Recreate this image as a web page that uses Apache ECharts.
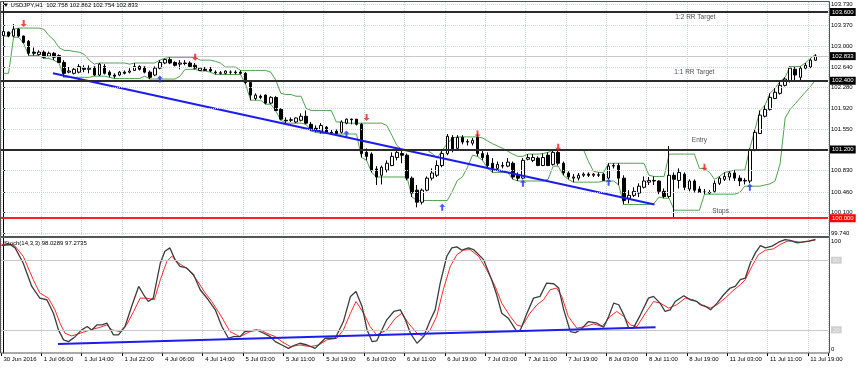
<!DOCTYPE html>
<html><head><meta charset="utf-8">
<script src="https://cdn.jsdelivr.net/npm/echarts@6/dist/echarts.min.js"></script>
<style>html,body{margin:0;padding:0;background:#fff}#c{width:859px;height:368px}</style>
</head><body><div id="c"></div>
<script>
const openP=[103.19,103.25,103.18,103.30,103.18,103.09,102.90,102.86,102.90,102.83,102.88,102.84,102.72,102.55,102.53,102.55,102.62,102.60,102.64,102.50,102.65,102.55,102.50,102.50,102.55,102.55,102.58,102.65,102.64,102.55,102.50,102.62,102.71,102.77,102.72,102.69,102.71,102.71,102.67,102.58,102.60,102.60,102.55,102.53,102.53,102.55,102.55,102.55,102.53,102.37,102.09,102.13,102.15,102.01,102.11,101.90,101.71,101.71,101.68,101.71,101.78,101.64,101.57,101.52,101.59,101.50,101.52,101.50,101.66,101.73,101.73,101.64,101.15,101.12,100.86,100.75,100.84,100.92,101.06,101.13,101.10,100.70,100.49,100.28,100.49,100.70,100.75,100.92,101.13,101.41,101.22,101.41,101.33,101.31,101.41,101.13,101.10,100.96,100.87,100.92,100.91,100.96,100.75,100.70,101.03,101.01,101.05,100.92,101.10,100.94,101.15,100.96,100.79,100.70,100.70,100.75,100.77,100.75,100.75,100.77,100.70,100.91,100.92,100.70,100.35,100.40,100.44,100.54,100.63,100.66,100.65,100.47,100.38,100.75,100.66,100.77,100.51,100.65,100.51,100.46,100.45,100.47,100.61,100.68,100.72,100.79,100.70,100.65,100.65,101.19,101.48,101.78,101.90,102.09,102.18,102.32,102.39,102.60,102.46,102.62,102.64,102.758];
const highP=[103.30,103.26,103.39,103.32,103.19,103.11,102.98,102.93,102.93,102.91,102.90,102.86,102.76,102.64,102.64,102.69,102.67,102.67,102.65,102.71,102.69,102.58,102.53,102.57,102.58,102.62,102.71,102.67,102.65,102.58,102.65,102.76,102.79,102.81,102.74,102.76,102.76,102.74,102.71,102.64,102.64,102.64,102.58,102.57,102.58,102.58,102.58,102.58,102.55,102.41,102.18,102.16,102.16,102.13,102.13,101.92,101.76,101.76,101.76,101.83,101.88,101.68,101.62,101.66,101.61,101.54,101.55,101.71,101.74,101.74,101.72,101.66,101.22,101.15,100.91,100.92,101.01,101.15,101.20,101.19,101.13,100.73,100.58,100.52,100.73,100.87,101.01,101.19,101.47,101.45,101.45,101.45,101.38,101.40,101.48,101.19,101.15,101.05,100.99,100.98,101.05,100.99,100.80,101.05,101.12,101.12,101.08,101.13,101.15,101.19,101.20,100.99,100.82,100.77,100.79,100.80,100.80,100.79,100.80,100.79,100.96,100.96,100.96,100.75,100.49,100.54,100.61,100.73,100.72,100.73,100.66,100.52,101.26,100.80,100.87,100.80,100.68,100.68,100.56,100.51,100.49,100.66,100.73,100.80,100.82,100.84,100.75,100.70,101.22,101.54,101.88,101.97,102.18,102.27,102.39,102.46,102.65,102.64,102.65,102.71,102.79,102.862];
const lowP=[103.18,103.16,103.16,103.16,103.05,102.84,102.84,102.84,102.79,102.81,102.76,102.71,102.46,102.53,102.51,102.53,102.55,102.53,102.48,102.48,102.51,102.46,102.44,102.48,102.51,102.53,102.57,102.58,102.53,102.43,102.48,102.60,102.69,102.69,102.65,102.60,102.67,102.64,102.60,102.57,102.57,102.55,102.51,102.51,102.51,102.51,102.51,102.51,102.34,102.06,102.06,102.08,101.99,101.99,101.87,101.71,101.66,101.68,101.66,101.69,101.64,101.52,101.50,101.48,101.48,101.47,101.47,101.48,101.64,101.64,101.62,101.06,101.01,100.80,100.58,100.59,100.80,100.91,101.01,100.96,100.66,100.37,100.19,100.24,100.47,100.66,100.72,100.89,101.10,101.15,101.19,101.29,101.27,101.27,101.08,101.01,100.87,100.80,100.84,100.87,100.89,100.68,100.65,100.68,101.01,100.98,100.91,100.91,100.91,100.92,100.92,100.75,100.68,100.63,100.66,100.72,100.72,100.72,100.72,100.65,100.68,100.87,100.58,100.24,100.26,100.37,100.37,100.52,100.58,100.58,100.42,100.35,100.35,100.00,100.52,100.49,100.47,100.45,100.44,100.42,100.42,100.45,100.58,100.65,100.66,100.65,100.56,100.59,100.61,101.17,101.47,101.76,101.88,102.08,102.16,102.30,102.37,102.39,102.41,102.60,102.62,102.754];
const closeP=[103.26,103.18,103.30,103.18,103.07,102.88,102.88,102.90,102.81,102.88,102.81,102.72,102.53,102.57,102.60,102.65,102.60,102.62,102.50,102.69,102.53,102.50,102.48,102.55,102.53,102.57,102.65,102.60,102.55,102.46,102.62,102.72,102.77,102.71,102.67,102.71,102.70,102.65,102.62,102.62,102.58,102.57,102.54,102.54,102.57,102.55,102.54,102.53,102.37,102.15,102.15,102.11,102.01,102.11,101.88,101.73,101.70,101.72,101.75,101.78,101.66,101.55,101.54,101.62,101.50,101.49,101.48,101.68,101.73,101.72,101.64,101.13,101.08,100.84,100.72,100.89,100.96,101.08,101.15,101.10,100.70,100.44,100.28,100.49,100.70,100.79,100.92,101.13,101.43,101.19,101.41,101.33,101.34,101.36,101.13,101.06,100.92,100.87,100.94,100.91,100.98,100.72,100.70,101.01,101.06,101.06,100.92,101.06,100.92,101.15,100.96,100.79,100.72,100.72,100.75,100.77,100.75,100.77,100.76,100.66,100.91,100.92,100.70,100.31,100.40,100.47,100.56,100.65,100.66,100.65,100.47,100.38,100.75,100.68,100.80,100.54,100.65,100.49,100.45,100.45,100.44,100.61,100.70,100.73,100.79,100.70,100.65,100.66,101.19,101.50,101.80,101.90,102.11,102.20,102.32,102.43,102.62,102.50,102.62,102.67,102.76,102.833];
const upperBand=[103.18,103.18,103.30,103.32,103.32,103.32,103.32,103.32,103.30,103.19,103.11,102.98,102.93,102.93,102.91,102.90,102.86,102.76,102.69,102.71,102.71,102.71,102.71,102.71,102.71,102.69,102.71,102.71,102.71,102.71,102.71,102.76,102.79,102.81,102.81,102.81,102.81,102.81,102.81,102.76,102.76,102.76,102.74,102.71,102.64,102.64,102.64,102.58,102.58,102.58,102.58,102.58,102.58,102.55,102.41,102.18,102.16,102.16,102.13,102.13,101.92,101.88,101.88,101.88,101.88,101.88,101.68,101.68,101.66,101.66,101.66,101.66,101.66,101.66,101.66,101.66,101.62,101.45,101.27,101.20,101.20,101.20,101.20,101.20,101.19,101.13,101.05,101.19,101.30,101.40,101.42,101.42,101.42,101.42,101.42,101.40,101.35,101.30,101.26,101.22,101.17,101.12,101.08,101.08,101.12,101.12,101.12,101.13,101.15,101.19,101.20,101.20,101.20,101.20,101.20,101.20,100.99,100.82,100.80,100.80,100.96,100.96,100.96,100.96,100.96,100.96,100.96,100.96,100.75,100.73,100.73,100.73,101.12,101.12,101.12,101.12,101.12,101.12,100.87,100.87,100.80,100.68,100.73,100.80,100.82,100.84,100.84,100.84,101.22,101.54,101.88,101.97,102.18,102.27,102.39,102.46,102.65,102.65,102.65,102.71,102.79,102.86];
const lowerBand=[102.53,102.53,103.16,103.16,103.05,102.84,102.84,102.84,102.79,102.79,102.76,102.71,102.46,102.46,102.46,102.46,102.46,102.46,102.48,102.48,102.48,102.46,102.44,102.44,102.44,102.44,102.44,102.44,102.48,102.43,102.43,102.43,102.43,102.43,102.43,102.48,102.60,102.60,102.60,102.57,102.57,102.55,102.51,102.51,102.51,102.51,102.51,102.51,102.34,102.06,102.06,102.06,101.99,101.99,101.87,101.71,101.66,101.66,101.66,101.66,101.64,101.52,101.50,101.48,101.48,101.47,101.47,101.47,101.47,101.47,101.47,101.06,101.01,100.80,100.72,100.72,100.72,100.72,100.72,100.72,100.72,100.37,100.31,100.31,100.31,100.31,100.31,100.31,100.31,100.47,100.66,100.72,100.89,101.10,101.08,101.01,100.87,100.80,100.80,100.80,100.80,100.68,100.65,100.65,100.65,100.65,100.65,100.65,100.68,100.91,100.91,100.75,100.68,100.63,100.63,100.63,100.63,100.63,100.63,100.65,100.65,100.65,100.58,100.24,100.24,100.24,100.24,100.24,100.24,100.26,100.37,100.35,100.35,100.14,100.14,100.14,100.14,100.14,100.14,100.42,100.42,100.42,100.42,100.42,100.42,100.42,100.45,100.56,100.56,100.56,100.56,100.58,100.60,100.65,100.95,101.75,101.90,102.00,102.10,102.20,102.30,102.41];
const tickLabels=["30 Jun 2016","1 Jul 06:00","1 Jul 14:00","1 Jul 22:00","4 Jul 06:00","4 Jul 14:00","5 Jul 03:00","5 Jul 11:00","5 Jul 19:00","6 Jul 03:00","6 Jul 11:00","6 Jul 19:00","7 Jul 03:00","7 Jul 11:00","7 Jul 19:00","8 Jul 03:00","8 Jul 11:00","8 Jul 19:00","11 Jul 03:00","11 Jul 11:00","11 Jul 19:00"];
const priceTicks=[99.74,100.10,100.46,100.83,101.55,101.92,102.28,102.64,103.00,103.37,103.73];
const gridPrices=[99.74,100.10,100.46,100.83,101.19,101.55,101.92,102.28,102.64,103.00,103.37,103.73];
const levelValues=[103.6,102.4,101.2,100.0];
const levelColors=['#2b2b2b','#2b2b2b','#2b2b2b','#ff2020'];
const lastPrice=102.833;
const stochMain=[[-0.4,92.6],[1.3,93.5],[2.3,90.6],[3.9,77.6],[5.6,57.4],[7.2,47.3],[8.6,45.9],[9.9,34.3],[10.9,19.9],[11.9,11.3],[12.9,9.8],[14.2,14.1],[15.5,19.9],[16.6,22.8],[17.5,19.9],[18.5,24.2],[19.5,24.2],[20.5,25.7],[21.8,15.6],[22.8,15.6],[24.1,22.8],[25.4,40.1],[26.8,57.4],[27.8,50.2],[28.7,44.4],[29.7,47.3],[31.1,77.6],[32.0,87.7],[33.0,90.6],[34.0,80.5],[35.0,74.7],[36.3,73.3],[37.7,67.5],[39.0,54.5],[40.6,45.9],[42.0,37.2],[43.3,22.8],[44.6,12.7],[45.6,14.1],[46.9,14.1],[47.9,18.5],[50.2,19.9],[51.6,17.0],[52.9,14.1],[53.9,9.8],[55.2,6.9],[56.5,4.0],[57.8,6.9],[58.8,8.4],[60.2,6.9],[61.8,4.0],[62.8,8.4],[63.8,12.7],[65.8,12.7],[67.4,27.1],[68.8,48.8],[69.9,53.1],[71.1,40.1],[72.1,19.9],[73.1,9.8],[74.0,10.4],[76.0,28.6],[77.4,35.8],[78.7,37.2],[79.7,28.6],[80.7,17.0],[82.0,8.4],[83.3,14.1],[84.6,28.0],[85.6,37.2],[86.6,60.3],[87.9,83.4],[88.9,90.6],[89.9,91.5],[90.9,88.6],[92.2,90.6],[93.2,89.2],[95.2,80.5],[96.8,63.2],[97.8,50.2],[98.8,34.3],[100.1,30.0],[101.8,18.5],[102.5,19.9],[103.8,34.3],[105.1,47.3],[106.4,48.8],[107.7,60.3],[109.1,59.7],[110.1,56.0],[111.1,37.2],[112.4,18.5],[113.4,17.6],[114.4,19.9],[116.0,27.1],[117.7,25.7],[119.0,22.2],[120.0,31.5],[121.0,43.0],[122.0,41.6],[123.0,32.9],[124.0,21.4],[124.9,21.4],[126.3,32.9],[127.9,47.3],[128.9,48.8],[130.2,43.0],[131.2,35.8],[132.2,37.2],[133.2,44.4],[134.9,49.4],[136.2,45.9],[137.5,44.4],[138.2,41.6],[139.5,39.5],[140.2,37.2],[141.5,43.0],[142.8,50.2],[144.1,56.0],[145.1,57.4],[146.1,63.2],[147.1,64.6],[148.1,77.6],[149.1,86.3],[150.1,92.6],[151.1,90.6],[152.4,92.1],[153.7,95.5],[155.0,97.8],[156.0,97.0],[157.4,95.0],[158.3,95.5],[159.7,96.4],[161.0,98.0]];
const stochSignal=[[-0.4,93.5],[1.0,94.4],[2.3,92.1],[3.9,83.4],[5.9,63.2],[7.2,51.7],[8.9,47.3],[10.2,37.2],[11.2,25.7],[12.2,17.0],[13.5,14.7],[15.2,17.0],[17.2,19.9],[19.2,22.2],[20.5,24.2],[21.5,19.9],[23.1,18.5],[24.4,24.2],[25.8,35.8],[27.1,47.3],[28.4,47.3],[29.9,45.9],[31.1,63.2],[32.4,79.1],[33.4,83.4],[34.7,77.6],[36.7,71.9],[38.3,63.2],[40.0,51.7],[41.3,44.4],[43.0,32.9],[44.9,18.5],[46.9,14.1],[48.9,18.5],[50.9,19.9],[52.2,17.0],[53.9,14.1],[55.2,9.8],[56.9,5.5],[58.8,6.9],[60.8,5.5],[62.5,6.9],[64.1,11.3],[66.1,12.7],[67.4,19.9],[68.8,34.3],[69.9,44.4],[71.4,34.3],[72.7,22.8],[74.0,15.6],[76.0,19.9],[77.7,30.0],[79.0,34.3],[80.3,25.7],[82.0,17.0],[83.3,14.1],[84.6,19.9],[85.9,31.5],[87.2,54.5],[88.6,74.7],[89.9,84.8],[91.2,88.6],[92.5,89.2],[94.2,83.4],[95.8,71.9],[97.5,57.4],[98.8,43.0],[100.5,31.5],[101.8,24.2],[102.8,22.8],[104.4,34.3],[105.8,41.6],[107.1,45.9],[108.4,54.5],[109.7,56.0],[110.7,48.8],[112.0,31.5],[113.7,21.4],[115.4,22.8],[117.0,25.1],[118.7,22.8],[120.3,31.5],[121.6,35.8],[123.0,31.5],[124.3,24.2],[125.6,22.8],[127.3,34.3],[128.9,44.4],[130.2,43.0],[131.9,38.7],[133.5,41.6],[135.2,47.3],[136.8,45.9],[138.5,41.6],[140.2,38.7],[141.5,41.6],[143.1,47.3],[144.5,53.1],[146.1,58.9],[147.1,63.2],[148.4,74.7],[149.7,84.8],[151.1,88.6],[152.7,89.8],[154.0,93.5],[155.4,96.4],[156.7,96.4],[158.0,95.5],[159.7,96.4],[161.0,97.3]];
const sellArrows=[[4,103.40],[38,102.81],[72,101.76],[94,101.47],[110,101.24],[139,100.89]];
const buyArrows=[[31,102.43],[68,101.47],[87,100.19],[103,100.61],[120,100.63],[148,100.54]];
const priceTrend=[[9.8,102.53],[129.1,100.24]];
const stochTrend=[[10.8,7.8],[129.3,22.2]];
const noteTexts=['1:2 RR Target','1:1 RR Target','Entry','Stops'];
const notePos=[[137.2,103.51],[137.0,102.55],[138.0,101.36],[142.2,100.12]];
const stochLevels=[80,20];

const N=164;
const FONT='Liberation Sans';
const cats=Array.from({length:N},(_,i)=>String(i));
const candles=openP.map((o,i)=>[o,closeP[i],lowP[i],highP[i]]);
const chart=echarts.init(document.getElementById('c'),null,{renderer:'canvas'});
const dotted={type:'dotted',color:'#cdd4db',width:1};
const tf=(v)=>v.toFixed(3);
chart.setOption({
  animation:false,
  backgroundColor:'#ffffff',
  textStyle:{fontFamily:FONT},
  title:[
    {text:'\u25BC USDJPY,H1  102.758 102.862 102.754 102.833',left:3,top:2,padding:0,textStyle:{fontSize:6,fontWeight:'normal',color:'#000',fontFamily:FONT}},
    {text:'Stoch(14,3,3) 98.0289 97.2735',left:4,top:240,padding:0,textStyle:{fontSize:6,fontWeight:'normal',color:'#000',fontFamily:FONT}}
  ],
  grid:[
    {left:1,top:2,width:827,height:234},
    {left:1,top:237,width:827,height:116}
  ],
  xAxis:[
    {type:'category',gridIndex:0,data:cats,boundaryGap:true,axisLine:{show:false},axisTick:{show:false},axisLabel:{show:false},splitLine:{show:true,interval:7,lineStyle:dotted}},
    {type:'category',gridIndex:1,data:cats,boundaryGap:true,axisLine:{show:false},
      axisTick:{show:true,interval:7,length:3,lineStyle:{color:'#000'}},
      axisLabel:{show:true,interval:7,fontSize:6,color:'#000',align:'left',margin:3,fontFamily:FONT,formatter:(v,i)=>tickLabels[i/8]||''},
      splitLine:{show:true,interval:7,lineStyle:dotted}},
    {type:'value',gridIndex:0,min:-0.5,max:N-0.5,show:false},
    {type:'value',gridIndex:1,min:-0.5,max:N-0.5,show:false}
  ],
  yAxis:[
    {type:'value',gridIndex:0,position:'right',min:99.69,max:103.775,scale:true,
      axisLine:{show:true,lineStyle:{color:'#000',width:1}},
      axisTick:{show:true,length:2,customValues:priceTicks,lineStyle:{color:'#000'}},
      axisLabel:{show:true,customValues:priceTicks,fontSize:6,color:'#000',margin:3,fontFamily:FONT,formatter:tf},
      splitLine:{show:false}},
    {type:'value',gridIndex:1,position:'right',min:0,max:100,
      axisLine:{show:true,lineStyle:{color:'#000',width:1}},
      axisTick:{show:false},
      axisLabel:{show:true,customValues:[0,20,80,100],fontSize:6,color:'#000',margin:3,fontFamily:FONT,
        formatter:(v)=>v===100?'{a|100}':v===0?'{b|0}':'{g|'+v+'}',
        rich:{a:{padding:[8,0,0,0],fontSize:6},b:{padding:[0,0,8,0],fontSize:6},g:{backgroundColor:'#cfcfcf',color:'#eeeeee',padding:[1,2,0,2],fontSize:6}}},
      splitLine:{show:false}}
  ],
  graphic:[
    {type:'rect',shape:{x:0.5,y:1.5,width:829,height:235},style:{fill:'none',stroke:'#555',lineWidth:1},silent:true,z:100},
    {type:'rect',shape:{x:0.5,y:237.5,width:829,height:115.5},style:{fill:'none',stroke:'#555',lineWidth:1},silent:true,z:100}
  ],
  series:[
    {type:'line',xAxisIndex:2,yAxisIndex:0,data:[],silent:true,z:1,
      markLine:{silent:true,symbol:['none','none'],animation:false,label:{show:false},lineStyle:dotted,
        data:gridPrices.map(v=>({yAxis:v}))}},
    {type:'candlestick',xAxisIndex:0,yAxisIndex:0,data:candles,barWidth:3,z:3,
      itemStyle:{color:'#ffffff',color0:'#000000',borderColor:'#000000',borderColor0:'#000000',borderWidth:1},
      markLine:{silent:true,symbol:['none','none'],animation:false,
        data:[
          {yAxis:lastPrice,lineStyle:{color:'#c8c8c8',width:1,type:'solid'},label:{show:true,position:'end',distance:2,formatter:tf(lastPrice),backgroundColor:'#000',color:'#fff',fontSize:6,padding:[1,2,1,2],fontFamily:FONT}}
        ].concat(levelValues.map((v,i)=>({yAxis:v,lineStyle:{color:levelColors[i],width:2,type:'solid'},
          label:{show:true,position:'end',distance:2,formatter:tf(v),backgroundColor:levelColors[i]==='#ff2020'?'#ff0000':'#000',color:'#fff',fontSize:6,padding:[1,2,1,2],fontFamily:FONT}})))}},
    {type:'line',xAxisIndex:0,yAxisIndex:0,data:upperBand,symbol:'none',lineStyle:{color:'#4fa34f',width:1},z:2,silent:true},
    {type:'line',xAxisIndex:0,yAxisIndex:0,data:lowerBand,symbol:'none',lineStyle:{color:'#4fa34f',width:1},z:2,silent:true},
    {type:'line',xAxisIndex:2,yAxisIndex:0,data:priceTrend,symbol:'none',lineStyle:{color:'#1c1cf0',width:2},z:4,silent:true},
    {type:'scatter',xAxisIndex:2,yAxisIndex:0,data:sellArrows,symbol:'path://M2,0 L4,0 L4,4 L6,4 L3,7 L0,4 L2,4 Z',symbolSize:[6,7],itemStyle:{color:'#f01818'},z:5,silent:true},
    {type:'scatter',xAxisIndex:2,yAxisIndex:0,data:buyArrows,symbol:'path://M3,0 L6,3 L4,3 L4,7 L2,7 L2,3 L0,3 Z',symbolSize:[6,7],itemStyle:{color:'#1a30e8'},z:5,silent:true},
    {type:'scatter',xAxisIndex:2,yAxisIndex:0,data:notePos.map((p,i)=>({value:p,name:noteTexts[i]})),symbolSize:1,itemStyle:{color:'rgba(0,0,0,0)'},z:6,silent:true,
      label:{show:true,position:'inside',formatter:'{b}',fontSize:6.5,color:'#222',fontFamily:FONT}},
    {type:'line',xAxisIndex:3,yAxisIndex:1,data:stochSignal,symbol:'none',lineStyle:{color:'#ff2a2a',width:1},z:3,silent:true,
      markLine:{silent:true,symbol:['none','none'],animation:false,label:{show:false},lineStyle:{color:'#c8c8c8',width:1,type:'solid'},data:stochLevels.map(v=>({yAxis:v}))}},
    {type:'line',xAxisIndex:3,yAxisIndex:1,data:stochMain,symbol:'none',lineStyle:{color:'#3c3c3c',width:1.3},z:4,silent:true},
    {type:'line',xAxisIndex:3,yAxisIndex:1,data:stochTrend,symbol:'none',lineStyle:{color:'#1c1cf0',width:2},z:5,silent:true}
  ]
});
</script></body></html>
